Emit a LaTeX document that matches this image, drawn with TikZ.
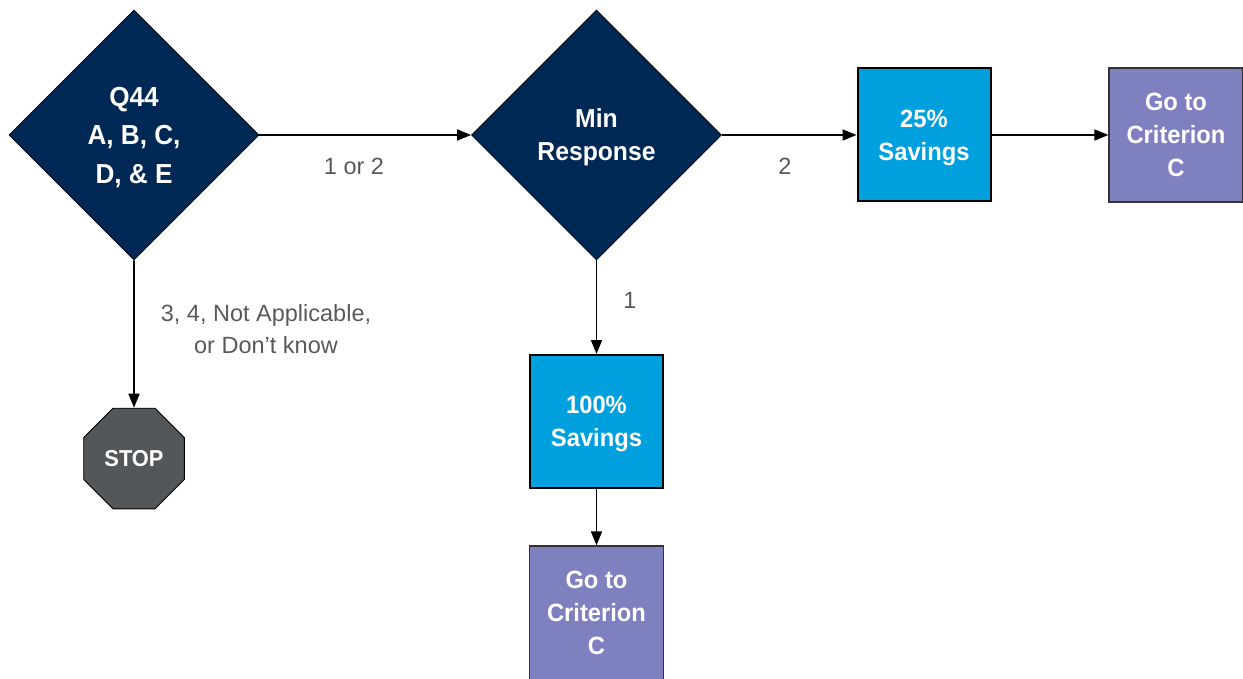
\documentclass[tikz,border=0pt]{standalone}
\usepackage{fontspec}
\setmainfont{Liberation Sans}
\newfontfamily\shapefont[FakeStretch=0.95]{Liberation Sans}
\usetikzlibrary{shapes.geometric,arrows.meta}

\definecolor{qnavy}{RGB}{0,40,85}
\definecolor{savecyan}{RGB}{0,160,222}
\definecolor{gopurple}{RGB}{127,128,192}
\definecolor{stopgray}{RGB}{84,87,90}
\definecolor{labelgray}{RGB}{89,89,89}

\tikzset{
  question/.style={diamond, aspect=1, minimum width=250pt, minimum height=250pt,
    inner sep=0pt, text depth=0pt, fill=qnavy, draw=black, line width=0.8pt, text=white,
    align=center, font=\shapefont\bfseries\fontsize{26}{33}\selectfont},
  savebox/.style={rectangle, minimum width=133pt, minimum height=133pt, inner sep=0pt,
    text depth=0pt, fill=savecyan, draw=black, line width=2pt, text=white, align=center,
    font=\shapefont\bfseries\fontsize{25}{33}\selectfont},
  gobox/.style={rectangle, minimum width=134pt, minimum height=134pt, inner sep=0pt,
    text depth=0pt, fill=gopurple, draw=black!80, line width=1.2pt, text=white, align=center,
    font=\shapefont\bfseries\fontsize{25}{33}\selectfont},
  stopsign/.style={regular polygon, regular polygon sides=8, minimum size=109pt,
    inner sep=0pt, fill=stopgray, draw=black, line width=0.8pt, text=white,
    font=\shapefont\bfseries\fontsize{23}{28}\selectfont},
  flow/.style={draw=black, line width=1.7pt, -{Triangle[length=14pt,width=11pt]}},
  edgelabel/.style={text=labelgray, align=center,
    font=\fontsize{23.5}{32}\selectfont}
}

\begin{document}
\begin{tikzpicture}[x=1pt, y=-1pt]
  \useasboundingbox (0,0) rectangle (1243,679);

  % decision diamonds
  \node[question, font=\shapefont\bfseries\fontsize{27.5}{38.5}\selectfont] (q44) at (134,135) {Q44\\A, B, C,\\D, \& E};
  \node[question] (minresp) at (596.5,135) {Min\\Response};

  % outcome boxes
  \node[savebox] (save25) at (924,135) {25\%\\Savings};
  \node[gobox] (goright) at (1176,135) {Go to\\Criterion\\C};
  \node[savebox] (save100) at (596.5,421.5) {100\%\\Savings};
  \node[gobox] (godown) at (596.5,613) {Go to\\Criterion\\C};

  % stop sign
  \node[stopsign] (stop) at (134,458.5) {STOP};

  % connectors
  \draw[flow] (q44.east) -- (minresp.west);
  \draw[flow] (minresp.east) -- (save25.west);
  \draw[flow] (save25.east) -- (goright.west);
  \draw[flow] (minresp.south) -- (save100.north);
  \draw[flow] (save100.south) -- (godown.north);
  \draw[flow] (q44.south) -- (stop.north);

  % connector labels
  \node[edgelabel] (l12) at (354,166) {1 or 2};
  \node[edgelabel] (l2) at (785,166) {2};
  \node[edgelabel] (l1) at (630,300) {1};
  \node[edgelabel] (lstop) at (266,329) {3, 4, Not Applicable,\\or Don’t know};
\end{tikzpicture}
\end{document}
